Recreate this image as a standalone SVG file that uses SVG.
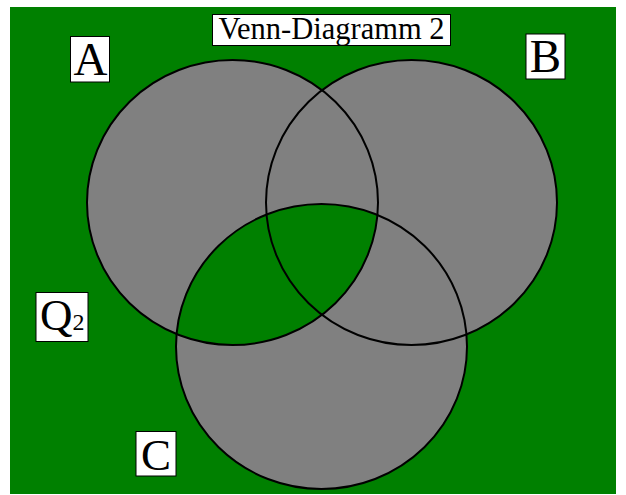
<svg xmlns="http://www.w3.org/2000/svg" width="626" height="495" viewBox="0 0 626 495">
  <style>
    .bg { fill: #ffffff; }
    .field { fill: #008000; }
    .set { fill: #808080; stroke: none; }
    .inter { fill: #008000; stroke: none; }
    .outline { fill: none; stroke: #000000; stroke-width: 2; }
    .box { fill: #ffffff; stroke: #000000; stroke-width: 1; }
    .lbl { font-family: "Liberation Serif", "Times New Roman", serif; fill: #000000; }
  </style>
  <defs>
    <ellipse id="eA" cx="232.5" cy="202.5" rx="145.5" ry="142.5"/>
    <ellipse id="eB" cx="411.5" cy="202.5" rx="145.5" ry="142.5"/>
    <ellipse id="eC" cx="321.5" cy="346.5" rx="145.5" ry="142.5"/>
    <clipPath id="clipC">
      <use href="#eC"/>
    </clipPath>
  </defs>
  <rect class="bg" x="0" y="0" width="626" height="495"/>
  <rect class="field" x="10" y="7" width="606" height="487"/>

  <g id="fills">
    <use href="#eA" class="set"/>
    <use href="#eB" class="set"/>
    <use href="#eC" class="set"/>
    <use href="#eA" class="inter" clip-path="url(#clipC)"/>
  </g>

  <g id="setA"><use href="#eA" class="outline"/></g>
  <g id="setB"><use href="#eB" class="outline"/></g>
  <g id="setC"><use href="#eC" class="outline"/></g>

  <g id="title">
    <rect class="box" x="212.5" y="14.5" width="238" height="31"/>
    <text class="lbl" x="331.5" y="38.5" font-size="30.5" text-anchor="middle">Venn-Diagramm 2</text>
  </g>
  <g id="labelA">
    <rect class="box" x="70.5" y="36.5" width="39" height="45.5"/>
    <text class="lbl" x="90.5" y="74.5" font-size="47" text-anchor="middle">A</text>
  </g>
  <g id="labelB">
    <rect class="box" x="526" y="34" width="39" height="45"/>
    <text class="lbl" x="545.5" y="71.5" font-size="47" text-anchor="middle">B</text>
  </g>
  <g id="labelQ2">
    <rect class="box" x="36" y="292.5" width="52" height="49"/>
    <text class="lbl" x="40" y="329.5" font-size="45">Q<tspan font-size="24">2</tspan></text>
  </g>
  <g id="labelC">
    <rect class="box" x="136" y="431.5" width="40" height="44.5"/>
    <text class="lbl" x="156" y="469.5" font-size="45" text-anchor="middle">C</text>
  </g>
</svg>
